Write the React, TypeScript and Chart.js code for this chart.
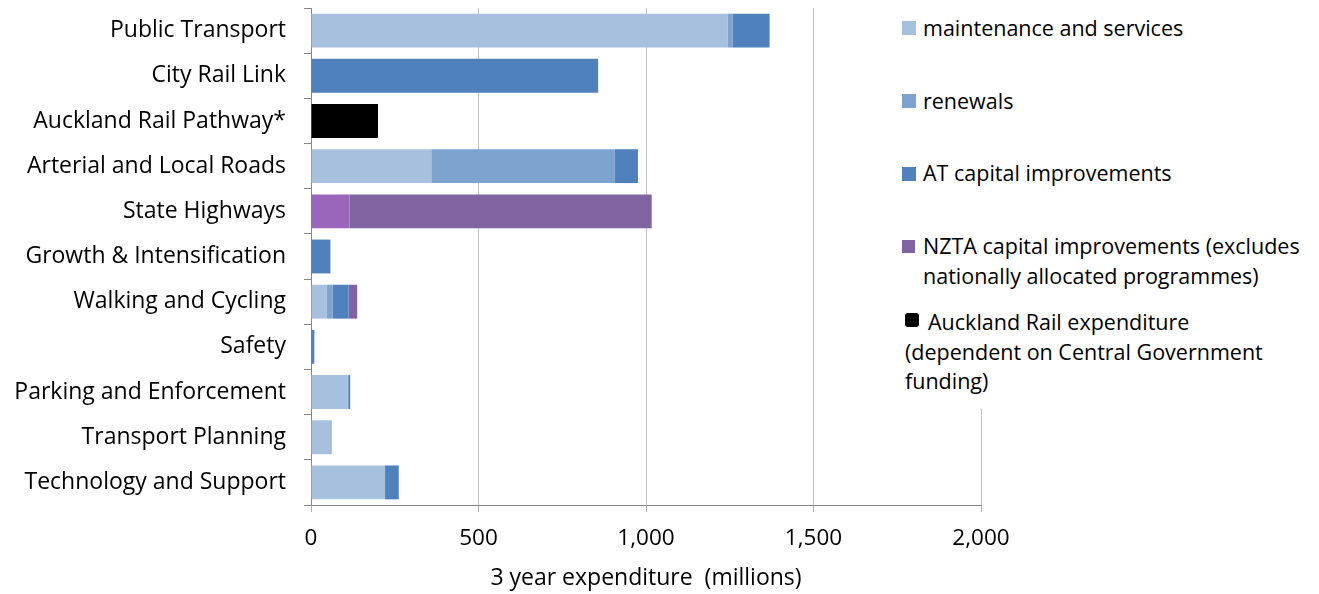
import React, { useEffect, useRef } from "react";
import { Chart, registerables } from "chart.js";

Chart.register(...registerables);

// Programme categories, top to bottom
const categories = [
  "Public Transport",
  "City Rail Link",
  "Auckland Rail Pathway*",
  "Arterial and Local Roads",
  "State Highways",
  "Growth & Intensification",
  "Walking and Cycling",
  "Safety",
  "Parking and Enforcement",
  "Transport Planning",
  "Technology and Support",
];

// 3 year expenditure, $ millions
const maintenanceServices = [1243, 0, 0, 359, 0, 0, 46, 0, 109, 58, 221];
const renewals = [15, 0, 0, 548, 0, 0, 18, 0, 2, 0, 0];
const atCapitalImprovements = [111, 857, 0, 69, 0, 58, 48, 10, 6, 3, 41];
const nztaMaintenance = [0, 0, 0, 0, 115, 0, 0, 0, 0, 0, 0];
const nztaCapitalImprovements = [0, 0, 0, 0, 902, 0, 26, 0, 0, 0, 0];
const aucklandRailExpenditure = [0, 0, 200, 0, 0, 0, 0, 0, 0, 0, 0];

const xTicks = [0, 500, 1000, 1500, 2000];

const FONT = "'Open Sans', 'Noto Sans', sans-serif";

type LegendLine = { text: string; left: number; centerY: number };

const legendMarkers = [
  { color: "#a7c0de", left: 902, top: 21, size: 14, radius: 0 },
  { color: "#7ea3cf", left: 902, top: 94, size: 14, radius: 0 },
  { color: "#4f81bd", left: 902, top: 167, size: 14, radius: 0 },
  { color: "#8064a2", left: 902, top: 240, size: 13, radius: 0 },
  { color: "#000000", left: 905, top: 313, size: 14, radius: 3 },
];

const legendLines: LegendLine[] = [
  { text: "maintenance and services", left: 923, centerY: 28 },
  { text: "renewals", left: 923, centerY: 101 },
  { text: "AT capital improvements", left: 923, centerY: 173 },
  { text: "NZTA capital improvements (excludes", left: 923, centerY: 246 },
  { text: "nationally allocated programmes)", left: 923, centerY: 276 },
  { text: "Auckland Rail expenditure", left: 928, centerY: 322 },
  { text: "(dependent on Central Government", left: 905, centerY: 352 },
  { text: "funding)", left: 905, centerY: 381 },
];

export default function App() {
  const canvasRef = useRef<HTMLCanvasElement | null>(null);

  useEffect(() => {
    const canvas = canvasRef.current;
    if (!canvas) return;
    const chart = new Chart(canvas, {
      type: "bar",
      data: {
        labels: categories,
        datasets: [
          { label: "maintenance and services", data: maintenanceServices, backgroundColor: "#a7c0de" },
          { label: "renewals", data: renewals, backgroundColor: "#7ea3cf" },
          { label: "AT capital improvements", data: atCapitalImprovements, backgroundColor: "#4f81bd" },
          { label: "NZTA maintenance and renewals", data: nztaMaintenance, backgroundColor: "#9966bb" },
          { label: "NZTA capital improvements", data: nztaCapitalImprovements, backgroundColor: "#8064a2" },
          { label: "Auckland Rail expenditure", data: aucklandRailExpenditure, backgroundColor: "#000000" },
        ],
      },
      options: {
        indexAxis: "y",
        animation: false,
        responsive: true,
        maintainAspectRatio: false,
        layout: { padding: { top: 8, right: 338, left: 0, bottom: 0 } },
        datasets: { bar: { barPercentage: 0.75, categoryPercentage: 1 } },
        plugins: {
          legend: { display: false },
          tooltip: { enabled: false },
        },
        scales: {
          x: {
            stacked: true,
            min: 0,
            max: 2000,
            afterBuildTicks: (scale: any) => {
              scale.ticks = xTicks.map((v) => ({ value: v }));
            },
            afterFit: (scale: any) => {
              scale.height = 89;
              scale.paddingLeft = 0;
              scale.paddingRight = 0;
            },
            grid: {
              color: "#c0c0c0",
              lineWidth: 1,
              drawTicks: true,
              tickLength: 7,
              tickColor: "#b0b0b0",
            },
            border: { color: "#868686", width: 1 },
            ticks: {
              color: "#000",
              padding: 13,
              font: { family: FONT, size: 22.5 },
              callback: (v: any) => Number(v).toLocaleString("en-US"),
            },
            title: {
              display: true,
              text: "3 year expenditure  (millions)",
              color: "#000",
              font: { family: FONT, size: 23 },
              padding: { top: 2, bottom: 2 },
            },
          },
          y: {
            stacked: true,
            afterFit: (scale: any) => {
              scale.width = 311;
              scale.paddingTop = 0;
              scale.paddingBottom = 0;
            },
            grid: {
              offset: true,
              drawOnChartArea: false,
              drawTicks: true,
              tickLength: 7,
              tickColor: "#868686",
            },
            border: { color: "#868686", width: 1 },
            ticks: {
              color: "#000",
              padding: 18,
              font: { family: FONT, size: 23 },
            },
          },
        },
      },
    });
    return () => chart.destroy();
  }, []);

  return (
    <div
      style={{
        position: "absolute",
        left: 0,
        top: 0,
        width: 1319,
        height: 594,
        background: "#fff",
        overflow: "hidden",
      }}
    >
      <canvas ref={canvasRef} />
      <div
        style={{
          position: "absolute",
          left: 888,
          top: 0,
          width: 431,
          height: 409,
          background: "#fff",
        }}
      >
        {legendMarkers.map((m, i) => (
          <div
            key={"m" + i}
            style={{
              position: "absolute",
              left: m.left - 888,
              top: m.top,
              width: m.size,
              height: m.size,
              background: m.color,
              borderRadius: m.radius,
            }}
          />
        ))}
        {legendLines.map((l, i) => (
          <div
            key={"l" + i}
            style={{
              position: "absolute",
              left: l.left - 888,
              top: l.centerY - 15,
              height: 30,
              lineHeight: "30px",
              fontFamily: FONT,
              fontSize: 21.5,
              color: "#000",
              whiteSpace: "nowrap",
            }}
          >
            {l.text}
          </div>
        ))}
      </div>
    </div>
  );
}
